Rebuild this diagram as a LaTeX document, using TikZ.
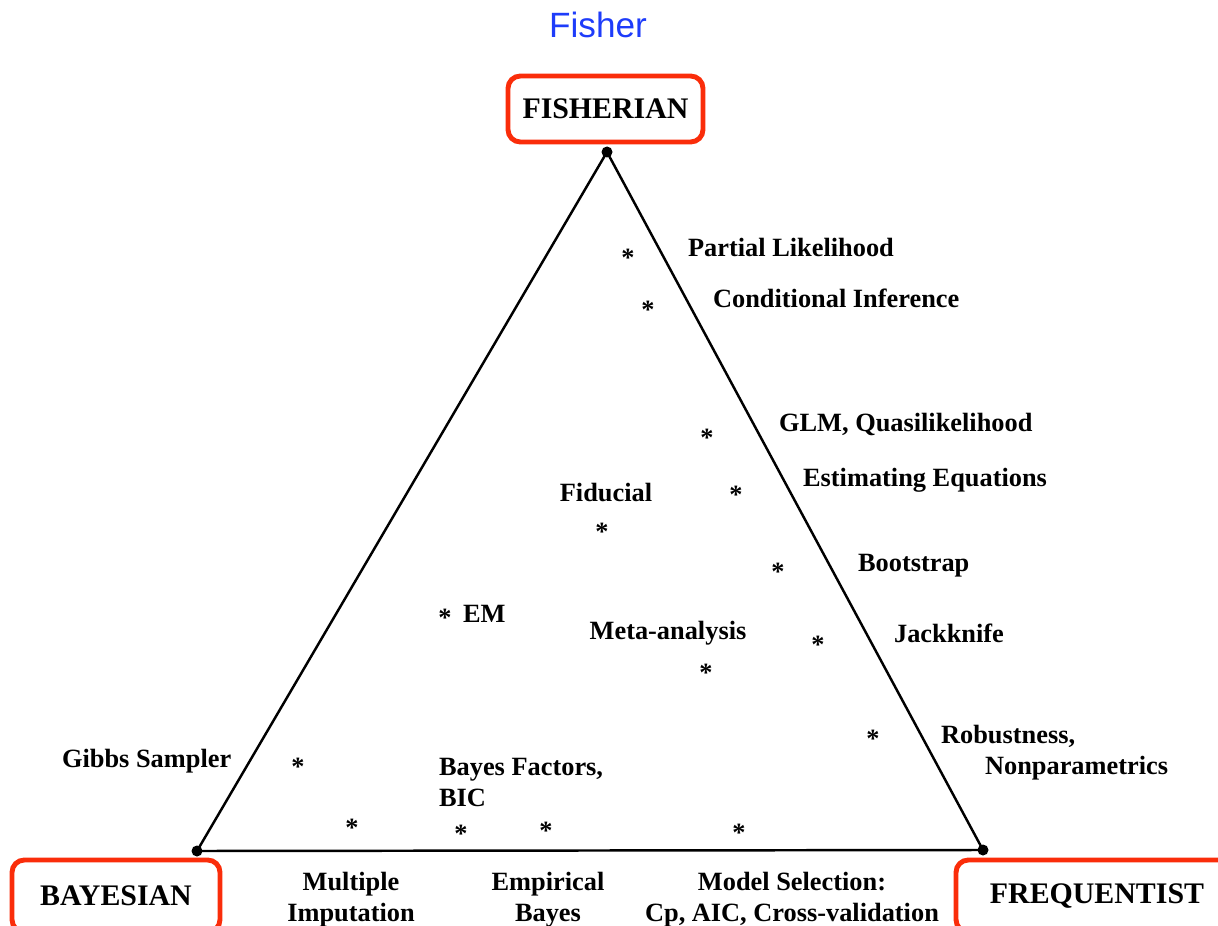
\documentclass[tikz,border=0pt]{standalone}
\usepackage{fontspec}
\setmainfont{Liberation Serif}
\newfontfamily\titlefont{Liberation Sans}
\usepackage{tikz}
\usetikzlibrary{positioning,calc}
\definecolor{boxred}{RGB}{250,45,10}
\definecolor{fisherblue}{RGB}{30,60,250}

\begin{document}
\begin{tikzpicture}[
    x=0.02cm, y=-0.02cm,
    school/.style={draw=boxred, line width=2.8pt, rounded corners=7pt, minimum height=1.32cm, font=\fontsize{17}{20}\selectfont\bfseries},
    lbl/.style={font=\fontsize{15}{17.5}\selectfont\bfseries, inner sep=1pt},
    star/.style={font=\fontsize{15}{17.5}\selectfont\bfseries, inner sep=0pt, yshift=-3pt},
    edge/.style={line width=1.4pt}
]
\useasboundingbox (0,0) rectangle (1218,926);
\clip (0,0) rectangle (1218,926);

% title and the three schools
\node[text=fisherblue, font=\titlefont\fontsize{20}{24}\selectfont] (fisher) at (598,25) {Fisher};
\node[school, minimum width=3.9cm] (fisherian) at (605.5,109) {FISHERIAN};
\node[school, minimum width=4.16cm, minimum height=1.44cm] (bayesian) at (116,896) {BAYESIAN};
\node[school, minimum width=5.64cm, minimum height=1.44cm] (frequentist) at (1097,896) {FREQUENTIST};

% triangle
\coordinate (top) at (607,152);
\coordinate (left) at (197,851);
\coordinate (right) at (983,850);
\draw[edge] (top) -- (left) -- (right) -- cycle;
\foreach \v in {top,left,right}
    \fill (\v) circle (5.5);

% near the Fisherian/frequentist side
\node[star] (s1) at (628,253) {*};
\node[lbl, anchor=west] (l1) at (686,247) {Partial Likelihood};
\node[star] (s2) at (648,305) {*};
\node[lbl, anchor=west] (l2) at (711,298) {Conditional Inference};
\node[star] (s3) at (707,433) {*};
\node[lbl, anchor=west] (l3) at (777,424) {GLM, Quasilikelihood};
\node[star] (s4) at (736,490) {*};
\node[lbl, anchor=west] (l4) at (801,480) {Estimating Equations};
\node[star] (s5) at (778,567) {*};
\node[lbl, anchor=west] (l5) at (856,566) {Bootstrap};
\node[star] (s6) at (818,640) {*};
\node[lbl, anchor=west] (l6) at (892,633) {Jackknife};
\node[star] (s7) at (873,734) {*};
\node[lbl, anchor=north west, align=left] (l7) at (939,723) {Robustness,\\\hspace*{0.88cm}Nonparametrics};

% inside
\node[lbl] (l8) at (606,493) {Fiducial};
\node[star] (s8) at (602,527) {*};
\node[star] (s9) at (445,613) {*};
\node[lbl, anchor=west] (l9) at (461,614) {EM};
\node[lbl] (l10) at (668,633) {Meta-analysis};
\node[star] (s10) at (706,668) {*};

% near the Bayesian side
\node[lbl, anchor=west] (l11) at (60,761) {Gibbs Sampler};
\node[star] (s11) at (298,762) {*};
\node[lbl, anchor=north west, align=left] (l12) at (437,756) {Bayes Factors,\\BIC};

% along the bottom
\node[star] (s12) at (352,823) {*};
\node[star] (s13) at (461,829) {*};
\node[star] (s14) at (546,826) {*};
\node[star] (s15) at (739,828) {*};
\node[lbl, align=center] (l13) at (351,900) {Multiple\\Imputation};
\node[lbl, align=center] (l14) at (548,900) {Empirical\\Bayes};
\node[lbl, align=center] (l15) at (792,900) {Model Selection:\\Cp, AIC, Cross-validation};
\end{tikzpicture}
\end{document}
